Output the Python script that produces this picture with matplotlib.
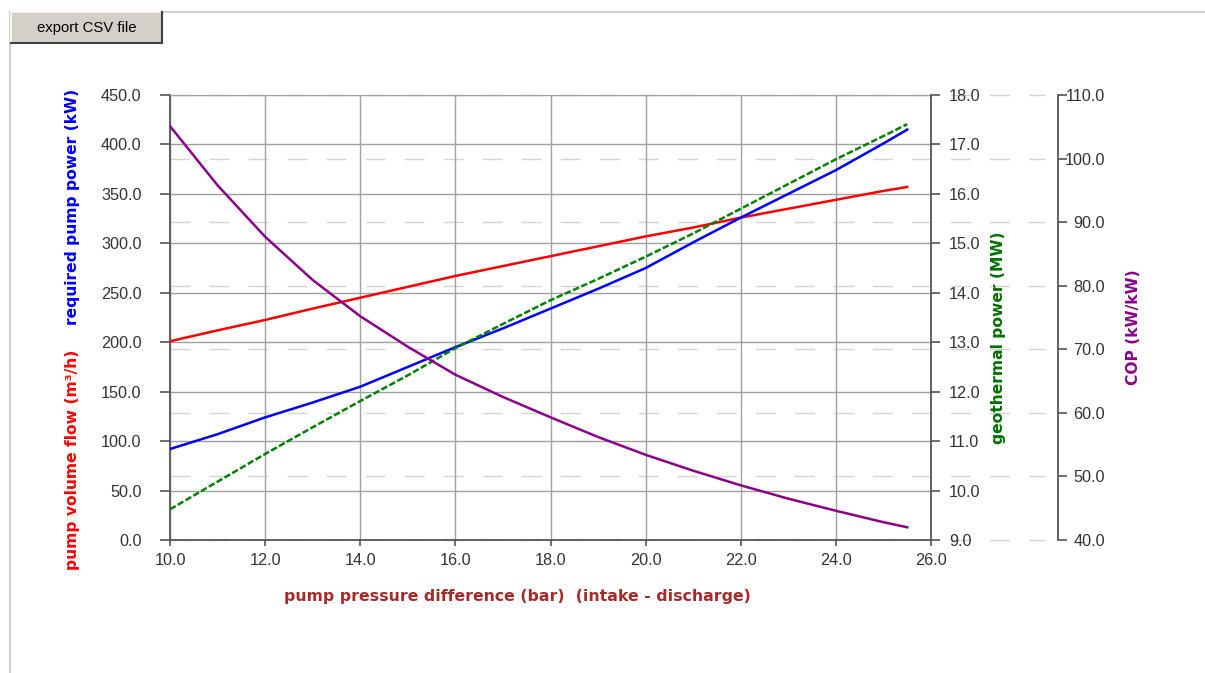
import numpy as np
import matplotlib
matplotlib.use("Agg")
import matplotlib.pyplot as plt
import matplotlib.transforms as mtrans
from matplotlib.patches import Rectangle
from matplotlib.lines import Line2D

# ---- data -------------------------------------------------------------
pressure_bar = [10, 11, 12, 13, 14, 15, 16, 17, 18, 19, 20, 21, 22, 23, 24, 25, 25.5]
volume_flow_m3h = [201, 212, 222.5, 234, 245, 256, 267, 277, 287, 297, 307, 316, 326, 335, 344, 353, 357]
pump_power_kw = [92, 107, 124, 139, 155, 175, 195, 214, 234, 254, 275, 301, 326, 350, 374, 401, 415]
geothermal_mw = [9.62, 10.18, 10.74, 11.28, 11.81, 12.33, 12.88, 13.37, 13.85, 14.28, 14.73,
                 15.2, 15.7, 16.2, 16.7, 17.17, 17.41]
cop_kw_kw = [105.1, 95.8, 87.7, 80.9, 75.2, 70.4, 66.0, 62.5, 59.3, 56.2, 53.4, 50.9, 48.6,
             46.5, 44.6, 42.8, 42.0]

x_ticks = [10, 12, 14, 16, 18, 20, 22, 24, 26]
left_ticks = [0, 50, 100, 150, 200, 250, 300, 350, 400, 450]
geo_ticks = [9, 10, 11, 12, 13, 14, 15, 16, 17, 18]
cop_ticks = [40, 50, 60, 70, 80, 90, 100, 110]

W, H = 1205, 673
TICK_FONT = "Liberation Sans"
LABEL_FONT = "DejaVu Sans"
TXT = "#333333"
AXC = "#555555"
GRIDC = "#a0a0a0"

fig = plt.figure(figsize=(W / 100, H / 100), dpi=100)
fig.patch.set_facecolor("white")

# panel frame and the export button
fig.add_artist(Line2D([10 / W, 1], [1 - 12 / H, 1 - 12 / H], color="#c8c8c8", lw=1.2))
fig.add_artist(Line2D([10 / W, 10 / W], [0, 1 - 12 / H], color="#c8c8c8", lw=1.2))
bx0, by0, bx1, by1 = 11, 12, 162, 43
fig.add_artist(Rectangle((bx0 / W, 1 - by1 / H), (bx1 - bx0) / W, (by1 - by0) / H,
                         facecolor="#d4d0c8", edgecolor="none"))
fig.add_artist(Line2D([bx0 / W, bx1 / W], [1 - by0 / H] * 2, color="white", lw=1.2))
fig.add_artist(Line2D([bx0 / W] * 2, [1 - by0 / H, 1 - by1 / H], color="white", lw=1.2))
fig.add_artist(Line2D([bx0 / W, bx1 / W], [1 - by1 / H] * 2, color="#404040", lw=1.5))
fig.add_artist(Line2D([bx1 / W] * 2, [1 - by0 / H, 1 - by1 / H], color="#404040", lw=1.5))
fig.text((bx0 + bx1) / 2 / W, 1 - 28 / H, "export CSV file", ha="center", va="center",
         fontsize=10.7, family=TICK_FONT, color="black")

# ---- axes -------------------------------------------------------------
L, R, T, B = 170, 931, 95, 540
ax = fig.add_axes([L / W, 1 - B / H, (R - L) / W, (B - T) / H])
ax2 = ax.twinx()
ax3 = ax.twinx()

ax.set_xlim(10, 26)
ax.set_ylim(0, 450)
ax2.set_ylim(9, 18)
ax3.set_ylim(40, 110)

ax.set_xticks(x_ticks)
ax.set_yticks(left_ticks)
ax2.set_yticks(geo_ticks)
ax3.set_yticks(cop_ticks)
ax.set_xticklabels([f"{v:.1f}" for v in x_ticks])
ax.set_yticklabels([f"{v:.1f}" for v in left_ticks])
ax2.set_yticklabels([f"{v:.1f}" for v in geo_ticks])
ax3.set_yticklabels([f"{v:.1f}" for v in cop_ticks])

ax.grid(True, color=GRIDC, lw=1.0, zorder=0)
ax.set_axisbelow(True)

ax.spines["right"].set_visible(False)
ax.spines["top"].set_color(GRIDC)
ax.spines["left"].set_color(AXC)
ax.spines["bottom"].set_color(AXC)
ax.spines["left"].set_linewidth(1.3)
ax.spines["bottom"].set_linewidth(1.3)

for a in (ax2, ax3):
    for s in ["left", "top", "bottom"]:
        a.spines[s].set_visible(False)
    a.spines["right"].set_color(AXC)
    a.spines["right"].set_linewidth(1.3)
ax3.spines["right"].set_position(("axes", (1058 - L) / (R - L)))

tick_kw = dict(labelsize=11.7, labelcolor=TXT, color=AXC, width=1.2)
ax.tick_params(axis="y", length=7.2, pad=13.2, **tick_kw)
ax.tick_params(axis="x", length=4.5, pad=5, **tick_kw)
ax2.tick_params(axis="y", length=6.5, pad=6.5, **tick_kw)
ax3.tick_params(axis="y", length=6.5, pad=27.3, **tick_kw)
for a in (ax, ax2, ax3):
    for t in a.get_xticklabels() + a.get_yticklabels():
        t.set_family(TICK_FONT)
plt.setp(ax3.get_yticklabels(), ha="right")

# light dashed guide lines at the COP ticks, running out to the COP axis
guide_tr = mtrans.blended_transform_factory(ax.transAxes, ax3.transData)
for v in cop_ticks:
    ax.add_line(Line2D([0, (1045 - L) / (R - L)], [v, v], transform=guide_tr,
                       color="#d4d4d4", lw=1.0, dashes=(14.4, 13.7), clip_on=False, zorder=0.5))

# ---- curves -----------------------------------------------------------
ax.plot(pressure_bar, volume_flow_m3h, color="#ff0000", lw=1.8, zorder=3)
ax.plot(pressure_bar, pump_power_kw, color="#0000ff", lw=1.8, zorder=3)
ax2.plot(pressure_bar, geothermal_mw, color="#008000", lw=1.8, dashes=(2.6, 1.0), zorder=3)
ax3.plot(pressure_bar, cop_kw_kw, color="#8b008b", lw=1.8, zorder=3)

# ---- axis titles ------------------------------------------------------
lab_kw = dict(family=LABEL_FONT, fontweight="bold", fontsize=11.2, rotation=90,
              ha="center", va="center")
fig.text(73 / W, 1 - 206.5 / H, "required pump power (kW)", color="#0000ff", **lab_kw)
fig.text(73 / W, 1 - 459.5 / H, "pump volume flow (m³/h)", color="#ff0000", **lab_kw)
fig.text(998 / W, 1 - 338 / H, "geothermal power (MW)", color="#007000", **lab_kw)
fig.text(1133 / W, 1 - 327 / H, "COP (kW/kW)", color="#8b008b", **lab_kw)
fig.text(517 / W, 1 - 597 / H, "pump pressure difference (bar)  (intake - discharge)",
         color="#a52a2a", family=LABEL_FONT, fontweight="bold", fontsize=11.3,
         ha="center", va="center")

fig.savefig("out.png", dpi=100)
